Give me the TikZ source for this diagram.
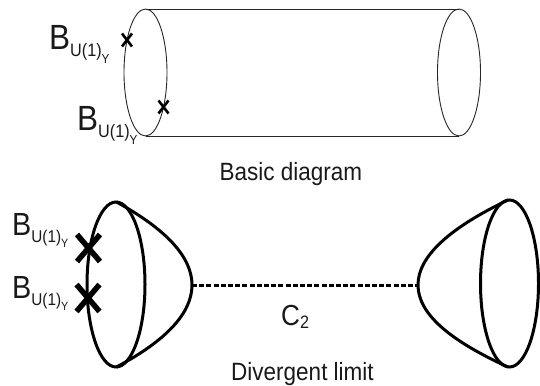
\documentclass[tikz,border=0pt]{standalone}
\usepackage{fontspec}
\usetikzlibrary{calc}
\setmainfont{Liberation Sans}[FakeStretch=0.9]
\newcommand{\BUY}[5]{{\fontsize{#1pt}{#1pt}\selectfont B}{\fontsize{#2pt}{#2pt}\selectfont\raisebox{-#4pt}{U(1)\raisebox{-#5pt}{\fontsize{#3pt}{#3pt}\selectfont Y}}}}
\tikzset{
  thinline/.style={line width=0.9pt, black!85},
  thickline/.style={line width=3pt, black},
  xsmall/.style={line width=2.6pt, black},
  xbig/.style={line width=5.5pt, black},
  lab/.style={inner sep=0pt, anchor=base west, text=black!90},
  captext/.style={inner sep=0pt, anchor=base, text=black!90, font=\fontsize{25pt}{25pt}\selectfont},
}
\begin{document}
\begin{tikzpicture}[x=1pt,y=-1pt]
\useasboundingbox (0,0) rectangle (540,385);
% ---- basic diagram: cylinder ----
\coordinate (lt) at (145.5,9);
\coordinate (lb) at (145.5,136);
\coordinate (rt) at (459,9);
\coordinate (rb) at (459,136);
\draw[thinline] (145.5,72.5) ellipse [x radius=21.5, y radius=63.5];
\draw[thinline] (459,72.5) ellipse [x radius=21.5, y radius=63.5];
\draw[thinline] (lt) -- (rt);
\draw[thinline] (lb) -- (rb);
% small crosses
\coordinate (x1) at (127,40);
\coordinate (x2) at (163.5,107);
\draw[xsmall] ($(x1)+(-5,-6.5)$) -- ($(x1)+(5,6.5)$) ($(x1)+(5,-6.5)$) -- ($(x1)+(-5,6.5)$);
\draw[xsmall] ($(x2)+(-5,-6.5)$) -- ($(x2)+(5,6.5)$) ($(x2)+(5,-6.5)$) -- ($(x2)+(-5,6.5)$);
\node[lab] (b1) at (49,50) {\BUY{35}{18}{13}{7}{7}};
\node[lab] (b2) at (77,130) {\BUY{35}{18}{13}{7}{7}};
\node[captext] (basic) at (291,180) {Basic diagram};
% ---- divergent limit ----
\coordinate (ltip) at (192,285);
\coordinate (rtip) at (418,285);
\draw[thickline] (116,284.5) ellipse [x radius=29, y radius=82.5];
\draw[thickline] (116.5,202) .. controls (166.8,229.7) and (192,257.3) .. (ltip) .. controls (192,312.7) and (166.8,340.3) .. (116.5,367);
\draw[thickline] (509.5,283.5) ellipse [x radius=29, y radius=83.5];
\draw[thickline] (508,200) .. controls (448,228.7) and (418,257) .. (rtip) .. controls (418,313) and (448,339.7) .. (508,367);
\draw[line width=3pt, dash pattern=on 5pt off 2.2pt] (ltip) -- (rtip);
\coordinate (x3) at (88.5,248);
\coordinate (x4) at (88,298);
\draw[xbig] ($(x3)+(-11.5,-13.5)$) -- ($(x3)+(11.5,13.5)$) ($(x3)+(11.5,-13.5)$) -- ($(x3)+(-11.5,13.5)$);
\draw[xbig] ($(x4)+(-11.5,-13.5)$) -- ($(x4)+(11.5,13.5)$) ($(x4)+(11.5,-13.5)$) -- ($(x4)+(-11.5,13.5)$);
\node[lab] (b3) at (12,235) {\BUY{32}{17}{12}{7}{5.5}};
\node[lab] (b4) at (12,298) {\BUY{32}{17}{12}{7}{5.5}};
\node[lab] (c2) at (281,325) {{\fontsize{29pt}{29pt}\selectfont C}\raisebox{-3pt}{\fontsize{18pt}{18pt}\selectfont 2}};
\node[captext] (div) at (302.5,380) {Divergent limit};
\end{tikzpicture}
\end{document}
